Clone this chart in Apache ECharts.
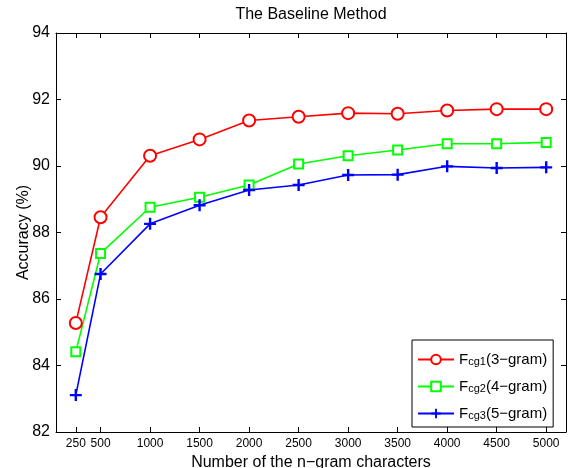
<!DOCTYPE html>
<html>
<head>
<meta charset="utf-8">
<script src="https://cdn.jsdelivr.net/npm/echarts@6/dist/echarts.min.js"></script>
<style>
html,body{margin:0;padding:0;background:#fff;}
#chart{width:573px;height:468px;}
</style>
</head>
<body>
<div id="chart"></div>
<script>
const xValues = [250, 500, 1000, 1500, 2000, 2500, 3000, 3500, 4000, 4500, 5000];
const fcg1 = [85.28, 88.46, 90.31, 90.80, 91.37, 91.48, 91.59, 91.57, 91.67, 91.71, 91.71];
const fcg2 = [84.41, 87.37, 88.76, 89.06, 89.43, 90.06, 90.31, 90.48, 90.67, 90.67, 90.71];
const fcg3 = [83.11, 86.75, 88.26, 88.82, 89.28, 89.43, 89.73, 89.74, 89.99, 89.94, 89.96];
const xTicks = [250, 500, 1000, 1500, 2000, 2500, 3000, 3500, 4000, 4500, 5000];
const seriesNames = ['Fcg1(3-gram)', 'Fcg2(4-gram)', 'Fcg3(5-gram)'];
const legendLabels = {
  'Fcg1(3-gram)': ['cg1', '(3\u2212gram)'],
  'Fcg2(4-gram)': ['cg2', '(4\u2212gram)'],
  'Fcg3(5-gram)': ['cg3', '(5\u2212gram)']
};

const font = 'Liberation Sans, Arial, Helvetica, sans-serif';
const pair = arr => xValues.map((x, i) => [x, arr[i]]);
const plusPath = 'path://M4,0h2v4h4v2h-4v4h-2v-4h-4v-2h4z';

const chart = echarts.init(document.getElementById('chart'), null, {renderer: 'canvas'});
const axisLineStyle = {color: '#000', width: 1};
const baseX = {
  type: 'value', min: 50, max: 5200,
  axisLine: {show: true, onZero: false, lineStyle: axisLineStyle},
  axisTick: {show: true, inside: true, length: 5, lineStyle: axisLineStyle, customValues: xTicks},
  splitLine: {show: false}
};
const baseY = {
  type: 'value', min: 82, max: 94, interval: 2,
  axisLine: {show: true, onZero: false, lineStyle: axisLineStyle},
  axisTick: {show: true, inside: true, length: 5, lineStyle: axisLineStyle},
  splitLine: {show: false}
};

chart.setOption({
  animation: false,
  backgroundColor: '#fff',
  title: {
    text: 'The Baseline Method', left: 311, top: 7, textAlign: 'center', padding: 0,
    textStyle: {fontFamily: font, fontSize: 16, fontWeight: 'normal', color: '#000'}
  },
  grid: {left: 56, right: 7, top: 33, bottom: 36, containLabel: false, outerBoundsMode: 'none'},
  xAxis: [
    Object.assign({}, baseX, {
      position: 'bottom',
      name: 'Number of the n\u2212gram characters', nameLocation: 'middle', nameGap: 22,
      nameTextStyle: {fontFamily: font, fontSize: 16, color: '#000'},
      axisLabel: {show: true, customValues: xTicks, margin: 6, hideOverlap: false,
        formatter: v => String(v), fontFamily: font, fontSize: 12, color: '#000'}
    }),
    Object.assign({}, baseX, {position: 'top', axisLabel: {show: false}})
  ],
  yAxis: [
    Object.assign({}, baseY, {
      position: 'left',
      name: 'Accuracy (%)', nameLocation: 'middle', nameGap: 24, nameMoveOverlap: false,
      nameTextStyle: {fontFamily: font, fontSize: 16, color: '#000'},
      axisLabel: {show: true, margin: 6, formatter: v => String(v), fontFamily: font, fontSize: 16, color: '#000'}
    }),
    Object.assign({}, baseY, {position: 'right', axisLabel: {show: false}})
  ],
  legend: {
    orient: 'vertical', left: 412, top: 340,
    padding: [5, 6, 6, 5], itemGap: 5, itemWidth: 36, itemHeight: 12,
    borderColor: '#000', borderWidth: 1, backgroundColor: '#fff',
    data: seriesNames,
    formatter: name => '{f|F}{s|' + legendLabels[name][0] + '}{f|' + legendLabels[name][1] + '}',
    textStyle: {
      fontFamily: font, fontSize: 15, color: '#000',
      rich: {
        f: {fontFamily: font, fontSize: 15, color: '#000', verticalAlign: 'top', lineHeight: 15},
        s: {fontFamily: font, fontSize: 11, color: '#000', verticalAlign: 'bottom', lineHeight: 11, padding: [11, 0, 0, 0]}
      }
    }
  },
  series: [
    {
      name: seriesNames[0], type: 'line', data: pair(fcg1),
      xAxisIndex: 0, yAxisIndex: 0,
      symbol: 'emptyCircle', symbolSize: 12,
      lineStyle: {color: '#ff0000', width: 1.6},
      itemStyle: {color: '#ff0000', borderColor: '#ff0000', borderWidth: 1.6}
    },
    {
      name: seriesNames[1], type: 'line', data: pair(fcg2),
      xAxisIndex: 0, yAxisIndex: 0,
      symbol: 'emptyRect', symbolSize: 9,
      lineStyle: {color: '#00ff00', width: 1.6},
      itemStyle: {color: '#00ff00', borderColor: '#00ff00', borderWidth: 1.6}
    },
    {
      name: seriesNames[2], type: 'line', data: pair(fcg3),
      xAxisIndex: 0, yAxisIndex: 0,
      symbol: plusPath, symbolSize: 12,
      lineStyle: {color: '#0000ff', width: 1.6},
      itemStyle: {color: '#0000ff', borderWidth: 0}
    }
  ]
});
</script>
</body>
</html>
